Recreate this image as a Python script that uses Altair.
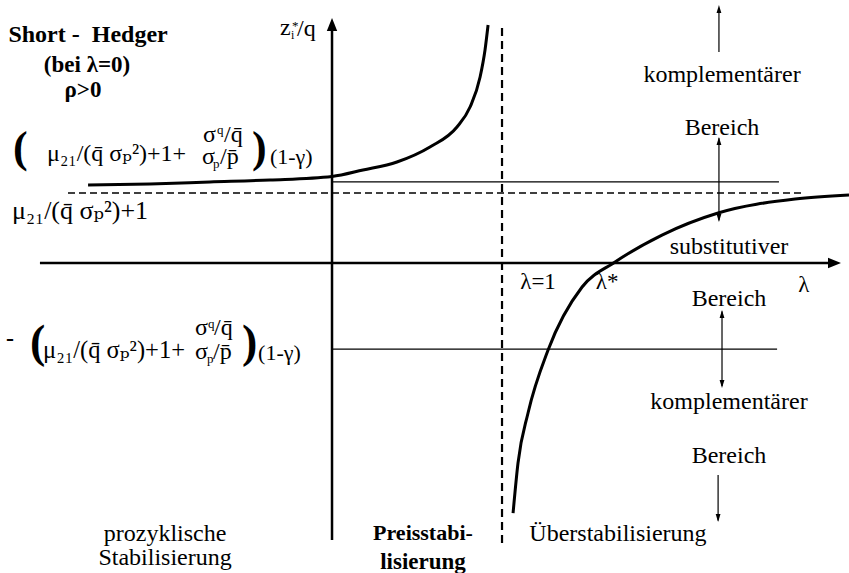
import altair as alt
import pandas as pd

# Hedge ratio z*/q as a function of the stabilisation parameter λ
# branch left of the pole λ = 1 (rises toward +∞)
left_lam = [-1.435, -1.071, -0.718, -0.365, 0.0, 0.182, 0.382, 0.576, 0.735, 0.812, 0.871, 0.900, 0.918]
left_z = [0.951, 0.963, 0.988, 1.012, 1.055, 1.134, 1.232, 1.415, 1.659, 1.902, 2.268, 2.598, 2.902]
# branch right of the pole (comes up from -∞ and flattens toward the asymptote)
right_lam = [1.065, 1.094, 1.153, 1.271, 1.471, 1.665, 1.941, 2.271, 2.724, 3.041]
right_z = [-3.049, -2.439, -1.829, -1.061, -0.293, 0.012, 0.341, 0.610, 0.780, 0.829]

# reference levels
upper_level = 0.99
lower_level = -1.05
asymptote = 0.854
pole = 1.0

X_DOMAIN = [-1.953, 3.041]
Y_DOMAIN = [-3.780, 3.207]
xs = alt.Scale(domain=X_DOMAIN, nice=False, zero=False)
ys = alt.Scale(domain=Y_DOMAIN, nice=False, zero=False)
FONT = "'Liberation Serif', 'Times New Roman', Times, 'DejaVu Serif', serif"


def X(f="lam"):
    return alt.X(f"{f}:Q", scale=xs, axis=None)


def Y(f="z"):
    return alt.Y(f"{f}:Q", scale=ys, axis=None)


def segs(rows):
    return pd.DataFrame(rows, columns=["lam", "lam2", "z", "z2"])


def rules(rows, width, dash=None):
    kw = dict(color="black", strokeWidth=width, strokeCap="butt")
    if dash:
        kw["strokeDash"] = dash
    return alt.Chart(segs(rows)).mark_rule(**kw).encode(
        x=X(), x2=alt.X2("lam2:Q"), y=Y(), y2=alt.Y2("z2:Q"))


def heads(points, path, size):
    df = pd.DataFrame(points, columns=["lam", "z"])
    return alt.Chart(df).mark_point(shape=path, size=size, filled=True, fill="black",
                                    strokeWidth=0, opacity=1).encode(x=X(), y=Y())


def texts(rows, align, bold=False):
    df = pd.DataFrame(rows, columns=["label", "lam", "z", "fs"])
    return alt.Chart(df).mark_text(align=align, baseline="alphabetic", font=FONT,
                                   fontWeight="bold" if bold else "normal",
                                   color="black").encode(
        x=X(), y=Y(), text="label:N", size=alt.Size("fs:Q", scale=None))


curve_df = pd.concat([
    pd.DataFrame({"lam": left_lam, "z": left_z, "branch": "links"}),
    pd.DataFrame({"lam": right_lam, "z": right_z, "branch": "rechts"}),
])
curves = alt.Chart(curve_df).mark_line(color="black", strokeWidth=3, interpolate="monotone").encode(
    x=X(), y=Y(), detail="branch:N", order="lam:Q")

axes = rules([(0, 0, -3.378, 2.93), (-1.718, 2.95, 0, 0)], 2.5)
levels = rules([(0, 2.629, upper_level, upper_level), (0, 2.618, lower_level, lower_level)], 1.3)
pole_line = rules([(pole, pole, -3.415, 2.902)], 2.2, [8, 5])
asym_line = rules([(-1.553, 2.782, asymptote, asymptote)], 1.4, [7, 4])
arrows = rules([(2.276, 2.276, 2.573, 3.10), (2.276, 2.276, 1.52, 0.52),
                (2.294, 2.294, -0.59, -1.50), (2.271, 2.271, -2.585, -3.14)], 1.2)

head_up_big = heads([(0, 2.988)], "M0,0L0.8,2L-0.8,2Z", 169)
head_right_big = heads([(2.994, 0)], "M0,0L-2,0.8L-2,-0.8Z", 169)
head_up = heads([(2.276, 3.146), (2.276, 1.537), (2.294, -0.573)], "M0,0L0.6,2L-0.6,2Z", 64)
head_down = heads([(2.276, 0.5), (2.294, -1.524), (2.271, -3.159)], "M0,0L0.6,-2L-0.6,-2Z", 64)

words = texts([
    ("komplementärer", 2.294, 2.207, 24),
    ("Bereich", 2.294, 1.561, 24),
    ("substitutiver", 2.335, 0.110, 24),
    ("Bereich", 2.335, -0.524, 24),
    ("komplementärer", 2.335, -1.780, 24),
    ("Bereich", 2.335, -2.439, 24),
    ("λ=1", 1.212, -0.317, 23),
    ("λ*", 1.618, -0.317, 23),
    ("λ", 2.776, -0.354, 23),
    ("prozyklische", -0.982, -3.390, 24),
    ("Stabilisierung", -0.982, -3.683, 24),
    ("Überstabilisierung", 1.682, -3.390, 24),
], "center")

bold_words = texts([
    ("Short -\u00a0 Hedger", -1.435, 2.695, 24),
    ("(bei λ=0)", -1.441, 2.329, 23),
    ("ρ>0", -1.465, 2.024, 23),
    ("Preisstabi-", 0.535, -3.378, 22),
    ("lisierung", 0.535, -3.732, 23),
], "center", bold=True)

q_bar = "q\u0304"
p_bar = "p\u0304"
base_term = f"μ₂₁/({q_bar} σₚ²)+1"

# large brackets around the level expressions
brackets = texts([
    ("(", -1.876, 1.232, 44),
    (")", -0.471, 1.232, 44),
    ("(", -1.776, -1.146, 46),
    (")", -0.529, -1.146, 46),
    ("-", -1.918, -1.012, 24),
], "left", bold=True)

formulas = texts([
    # axis title z_i*/q
    ("z", -0.306, 2.780, 24),
    ("i", -0.241, 2.732, 12),
    ("*", -0.235, 2.842, 13),
    ("/q", -0.206, 2.768, 24),
    # upper level
    (base_term + "+", -1.676, 1.244, 24),
    ("σ", -0.759, 1.476, 24),
    ("q", -0.676, 1.573, 13),
    ("/" + q_bar, -0.635, 1.476, 24),
    ("σ", -0.765, 1.207, 24),
    ("p", -0.700, 1.159, 13),
    ("/" + p_bar, -0.659, 1.207, 24),
    ("(1-γ)", -0.365, 1.207, 22),
    # asymptote
    (base_term, -1.882, 0.537, 26),
    # lower level
    (base_term + "+", -1.700, -1.159, 24.5),
    ("σ", -0.806, -0.878, 24),
    ("q", -0.729, -0.793, 13),
    ("/" + q_bar, -0.694, -0.878, 24),
    ("σ", -0.806, -1.171, 24),
    ("p", -0.735, -1.220, 13),
    ("/" + p_bar, -0.700, -1.171, 24),
    ("(1-γ)", -0.435, -1.183, 22),
], "left")

chart = alt.layer(
    asym_line, pole_line, levels, axes, arrows, curves,
    head_up_big, head_right_big, head_up, head_down,
    words, bold_words, brackets, formulas,
).properties(
    width=849, height=573, autosize=alt.AutoSizeParams(type="none"), padding=0,
    background="white",
).configure_view(stroke=None)

chart.save("out.html", embed_options={"renderer": "svg", "actions": False})
